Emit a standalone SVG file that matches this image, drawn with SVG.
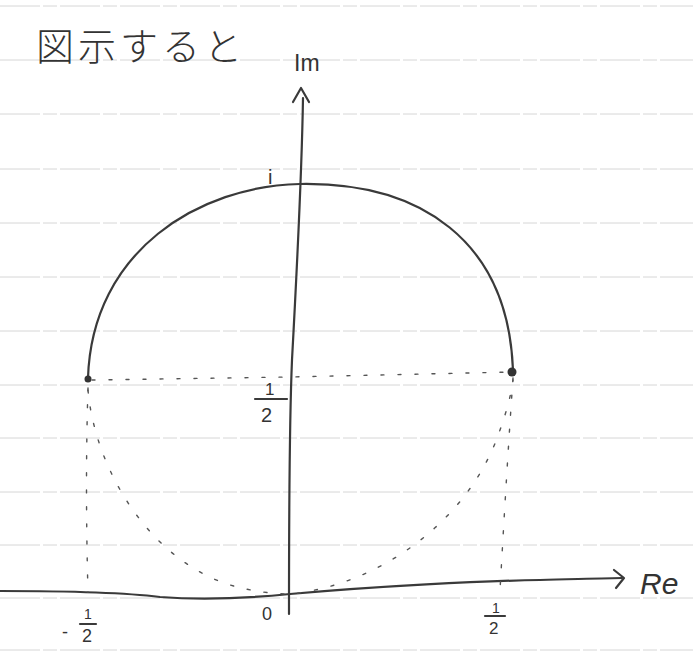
<svg xmlns="http://www.w3.org/2000/svg" width="693" height="651" viewBox="0 0 693 651">
<style>
.rule{stroke:#d6d6d6;stroke-width:1;stroke-dasharray:40 3 14 3}
.ink{fill:none;stroke:#3a3a3a;stroke-width:2.2;stroke-linecap:round;stroke-linejoin:round}
.dot{fill:none;stroke:#555;stroke-width:1.4;stroke-dasharray:3 14;stroke-linecap:round}
.t{fill:#333;font-family:"Liberation Sans","Noto Sans",sans-serif}
.jp{fill:#333;font-family:"Noto Sans CJK JP",sans-serif;font-weight:300}
</style>
<rect width="693" height="651" fill="#ffffff"/>
<g id="paper">
<line class="rule" x1="0" y1="6" x2="693" y2="6"/>
<line class="rule" x1="0" y1="60" x2="693" y2="60"/>
<line class="rule" x1="0" y1="114" x2="693" y2="114"/>
<line class="rule" x1="0" y1="169" x2="693" y2="169"/>
<line class="rule" x1="0" y1="223" x2="693" y2="223"/>
<line class="rule" x1="0" y1="277" x2="693" y2="277"/>
<line class="rule" x1="0" y1="331" x2="693" y2="331"/>
<line class="rule" x1="0" y1="385" x2="693" y2="385"/>
<line class="rule" x1="0" y1="438" x2="693" y2="438"/>
<line class="rule" x1="0" y1="492" x2="693" y2="492"/>
<line class="rule" x1="0" y1="545" x2="693" y2="545"/>
<line class="rule" x1="0" y1="598" x2="693" y2="598"/>
<line class="rule" x1="0" y1="650" x2="693" y2="650"/>
</g>
<g id="title">
<text class="jp" x="36" y="60" font-size="38" letter-spacing="4">図示すると</text>
</g>
<g id="axes">
<path class="ink" d="M303,98 C302,160 298,250 292,360 C289,430 289,520 289,614"/>
<path class="ink" d="M293,102 L301,88 L309,102"/>
<path class="ink" d="M0,591 C60,591 120,592 160,597 C200,600 250,598 290,594 C380,586 480,581 540,580 C580,579 610,578 622,578"/>
<path class="ink" d="M614,570 L624,578 L616,588"/>
<text class="t" x="640" y="594" font-size="30" font-style="italic">Re</text>
<text class="t" x="294" y="71" font-size="23">Im</text>
</g>
<g id="curve">
<path class="ink" d="M88,378 C92,250 200,186 300,184 C420,182 508,240 513,370"/>
<circle cx="88" cy="379" r="3.5" fill="#333"/>
<circle cx="512" cy="372" r="4.5" fill="#333"/>
</g>
<g id="projections">
<path class="dot" d="M92,380 L290,377 L513,372"/>
<path class="dot" d="M88,388 C86,450 86,520 88,592"/>
<path class="dot" d="M513,378 C508,450 504,520 500,590"/>
<path class="dot" d="M88,390 C95,470 150,560 230,585 C255,592 275,594 290,594 C380,585 470,520 500,430 C507,410 511,395 513,380"/>
</g>
<g id="labels">
<text class="t" x="268" y="184" font-size="20">i</text>
<line class="ink" x1="255" y1="399" x2="287" y2="399" stroke-width="1.8"/>
<text class="t" x="265" y="395" font-size="17">1</text>
<text class="t" x="261" y="422" font-size="20">2</text>
<text class="t" x="262" y="620" font-size="18">0</text>
<text class="t" x="62" y="638" font-size="18">-</text>
<text class="t" x="84" y="619" font-size="14">1</text>
<line class="ink" x1="80" y1="624" x2="96" y2="624" stroke-width="1.4"/>
<text class="t" x="82" y="642" font-size="18">2</text>
<text class="t" x="492" y="613" font-size="14">1</text>
<line class="ink" x1="485" y1="616" x2="505" y2="616" stroke-width="1.4"/>
<text class="t" x="489" y="634" font-size="17">2</text>
</g>
</svg>
